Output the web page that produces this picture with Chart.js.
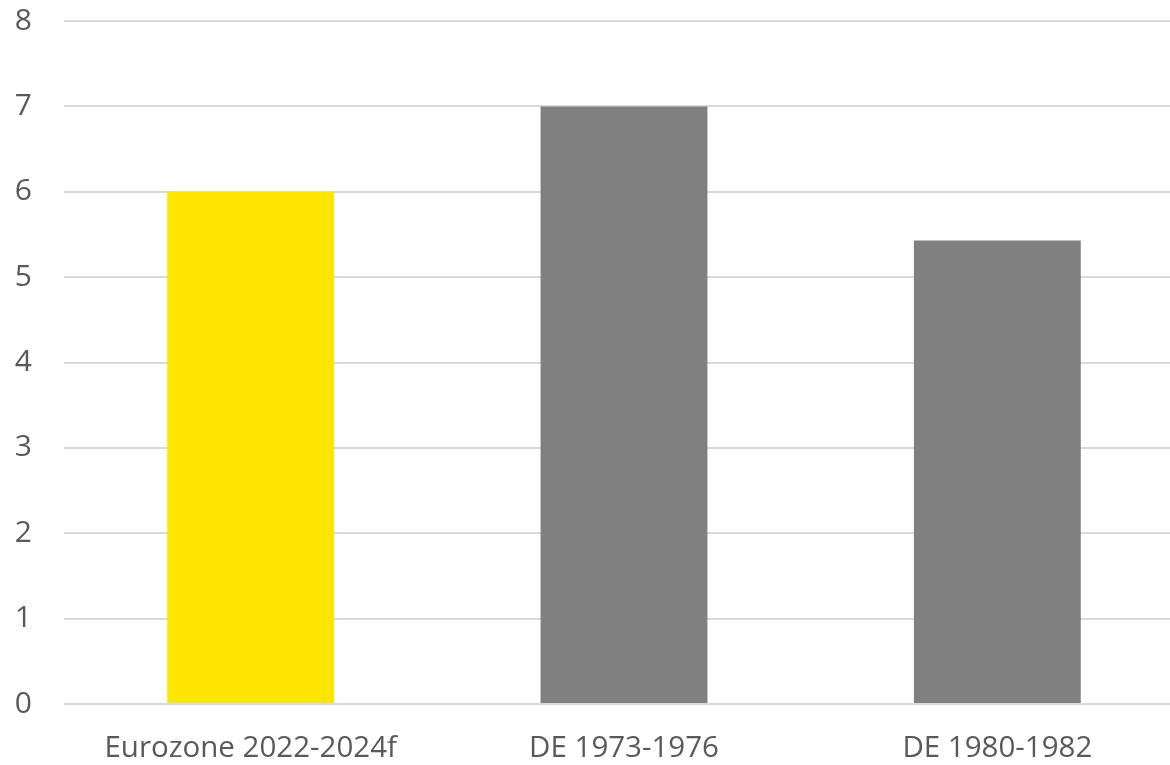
<!DOCTYPE html>
<html>
<head>
<meta charset="utf-8">
<script src="https://cdn.jsdelivr.net/npm/chart.js@4"></script>
<style>
  html, body { margin: 0; padding: 0; background: #fff; overflow: hidden; }
  /* chart runs past the window on the top and right edges */
  #wrap { width: 1184px; height: 794px; margin-top: -29px; }
</style>
</head>
<body>
<div id="wrap"><canvas id="bar-chartcanvas"></canvas></div>
<script>
var categories = ["Eurozone 2022-2024f", "DE 1973-1976", "DE 1980-1982"];
var values = [6.0, 7.0, 5.43];
var barColors = ["#FFE600", "#808080", "#808080"];
var yTicks = [0, 1, 2, 3, 4, 5, 6, 7, 8];

var textColor = "#595959";
var fontFamily = "'Open Sans', sans-serif";

var ctx = document.getElementById("bar-chartcanvas");

var data = {
	labels: categories,
	datasets: [{
		data: values,
		backgroundColor: barColors,
		borderWidth: 0,
		barPercentage: 0.447,
		categoryPercentage: 1
	}]
};

var options = {
	responsive: true,
	maintainAspectRatio: false,
	animation: false,
	layout: { padding: { top: 1, left: 0, right: 0, bottom: 0 } },
	plugins: {
		legend: { display: false },
		tooltip: { enabled: false }
	},
	scales: {
		x: {
			grid: { display: false },
			border: { display: false },
			ticks: {
				color: textColor,
				font: { family: fontFamily, size: 29.5 },
				padding: 19,
				maxRotation: 0
			},
			afterFit: function (scale) { scale.height = 61; }
		},
		y: {
			min: 0,
			max: 8,
			afterBuildTicks: function (scale) {
				scale.ticks = yTicks.map(function (v) { return { value: v }; });
			},
			grid: { color: "#d9d9d9", lineWidth: 2, drawTicks: false },
			border: { display: false },
			ticks: {
				color: textColor,
				font: { family: fontFamily, size: 30 },
				padding: 32
			},
			afterFit: function (scale) { scale.width = 64; }
		}
	}
};

var chart = new Chart(ctx, {
	type: "bar",
	data: data,
	options: options
});
</script>
</body>
</html>
